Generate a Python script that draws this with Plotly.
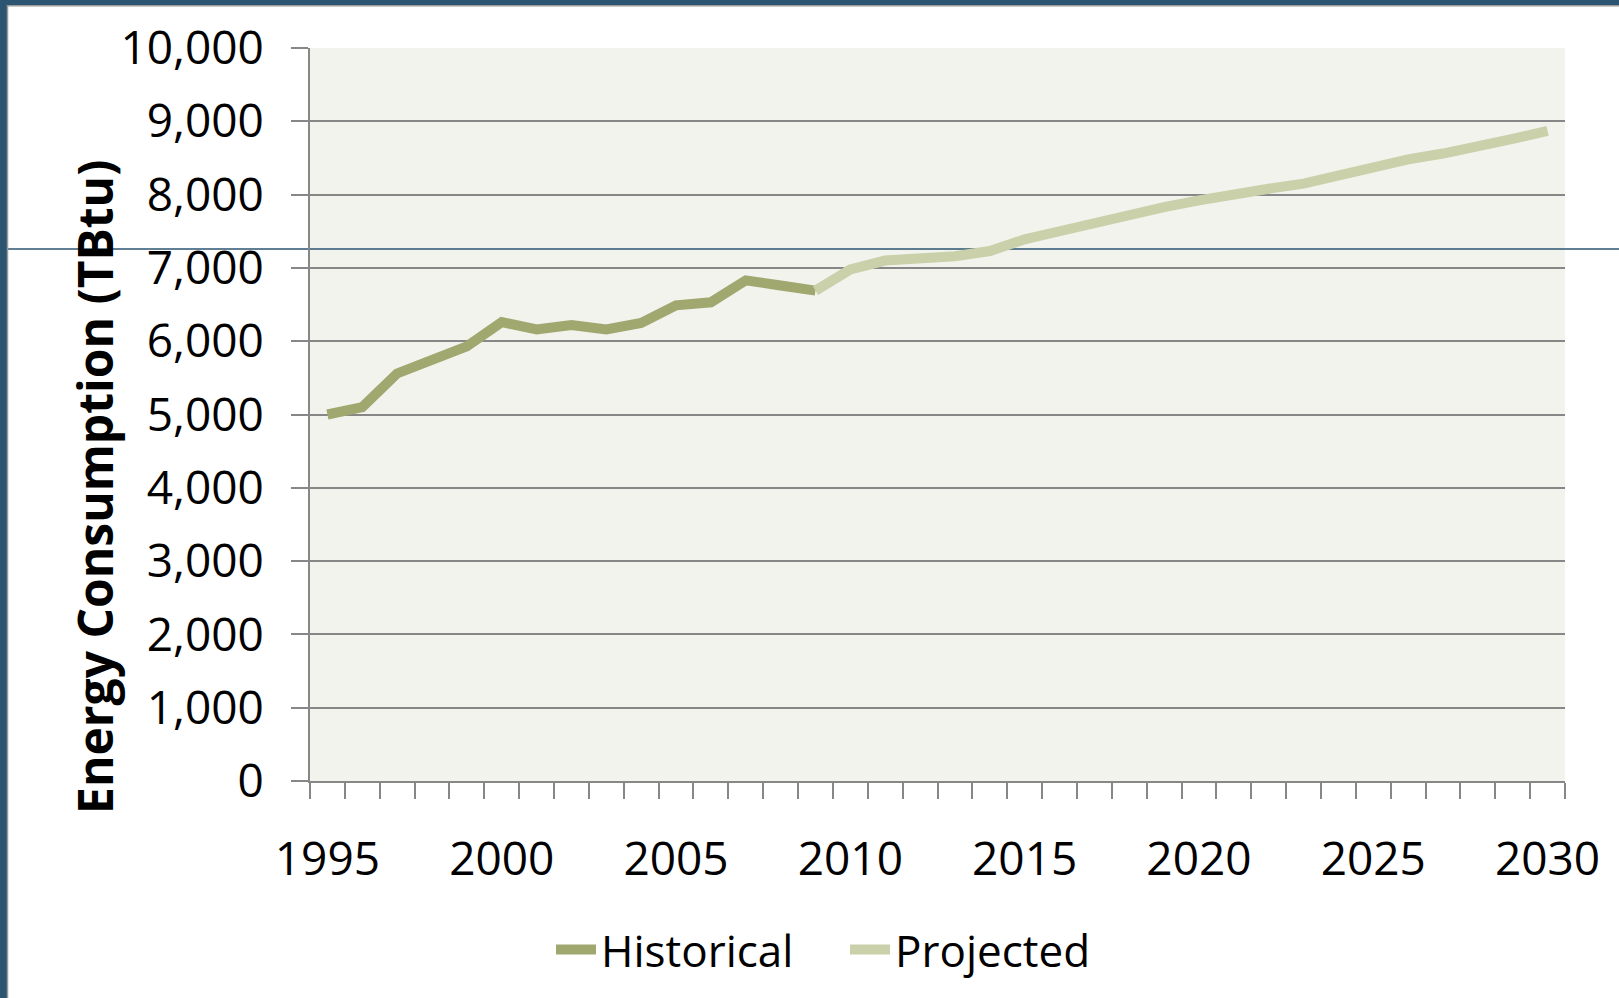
import plotly.graph_objects as go

years_hist = list(range(1995, 2010))
hist_values = [5000, 5100, 5560, 5740, 5930, 6260, 6160, 6220, 6160, 6250,
               6490, 6530, 6830, 6760, 6690]

years_proj = list(range(2009, 2031))
proj_values = [6690, 6980, 7100, 7120, 7160, 7230, 7390, 7500, 7620, 7745,
               7830, 7920, 8010, 8080, 8150, 8260, 8380, 8480, 8560, 8650,
               8760, 8870]

x_tick_years = [1995, 2000, 2005, 2010, 2015, 2020, 2025, 2030]
y_title = "Energy Consumption (TBtu)"

W, H = 1619, 998
L, R, T, B = 310, 54, 48, 217
pw, ph = W - L - R, H - T - B


def px_x(p):
    return (p - L) / pw


def px_y(p):
    return (H - B - p) / ph


fig = go.Figure()
fig.add_trace(go.Scatter(x=years_hist, y=hist_values, mode="lines", name="Historical",
                         line=dict(color="#A0A870", width=10)))
fig.add_trace(go.Scatter(x=years_proj, y=proj_values, mode="lines", name="Projected",
                         line=dict(color="#C9D0AA", width=10)))

grey = "#878787"
dark = "#2B5570"
shapes = [
    # slide background strips (left and top)
    dict(type="rect", xref="paper", yref="paper", x0=px_x(0), x1=px_x(7), y0=px_y(H), y1=px_y(0),
         fillcolor=dark, line=dict(width=0), layer="above"),
    dict(type="rect", xref="paper", yref="paper", x0=px_x(0), x1=px_x(W), y0=px_y(5), y1=px_y(0),
         fillcolor=dark, line=dict(width=0), layer="above"),
    dict(type="line", xref="paper", yref="paper", x0=px_x(7.5), x1=px_x(7.5), y0=px_y(H), y1=px_y(5),
         line=dict(color="#9a9a9a", width=1.5), layer="above"),
    dict(type="line", xref="paper", yref="paper", x0=px_x(7), x1=px_x(W), y0=px_y(5.75), y1=px_y(5.75),
         line=dict(color="#9a9a9a", width=1.5), layer="above"),
    # thin horizontal slide rule
    dict(type="line", xref="paper", yref="paper", x0=px_x(8), x1=px_x(W), y0=px_y(249), y1=px_y(249),
         line=dict(color=dark, width=1.5), layer="below"),
]

fig.update_layout(
    width=W, height=H,
    margin=dict(l=L, r=R, t=T, b=B, pad=0),
    paper_bgcolor="white",
    plot_bgcolor="#F2F3EC",
    font=dict(family="Open Sans", color="black"),
    showlegend=True,
    legend=dict(orientation="h", x=px_x(845), y=px_y(950), xanchor="center", yanchor="middle",
                font=dict(size=44, family="Open Sans"), bgcolor="rgba(0,0,0,0)",
                itemwidth=40, tracegroupgap=0, entrywidth=239),
    shapes=shapes,
    annotations=[dict(text=y_title, textangle=-90, xref="paper", yref="paper",
                      x=px_x(94), y=px_y(487), xanchor="center", yanchor="middle",
                      showarrow=False,
                      font=dict(size=48, family="Open Sans", weight="bold", color="black"))],
)

fig.update_xaxes(
    range=[1994.5, 2030.5],
    tickmode="array", tickvals=x_tick_years, ticktext=[str(v) for v in x_tick_years],
    ticks="", showgrid=False, zeroline=False,
    showline=True, linecolor=grey, linewidth=2,
    tickfont=dict(size=46, family="Open Sans"),
    ticklabelstandoff=37,
    minor=dict(ticks="outside", tick0=1994.5, dtick=1, ticklen=16, tickwidth=2, tickcolor=grey,
               showgrid=False),
)

fig.update_yaxes(
    range=[0, 10000], dtick=1000, tickformat=",",
    ticks="outside", ticklen=17, tickwidth=2, tickcolor=grey,
    showgrid=True, gridcolor=grey, gridwidth=2, zeroline=False,
    showline=True, linecolor=grey, linewidth=2,
    tickfont=dict(size=46, family="Open Sans"),
    ticklabelstandoff=18,
)

fig.write_html("out.html", config={"displayModeBar": False},
               post_script="document.body.style.margin='0';")
